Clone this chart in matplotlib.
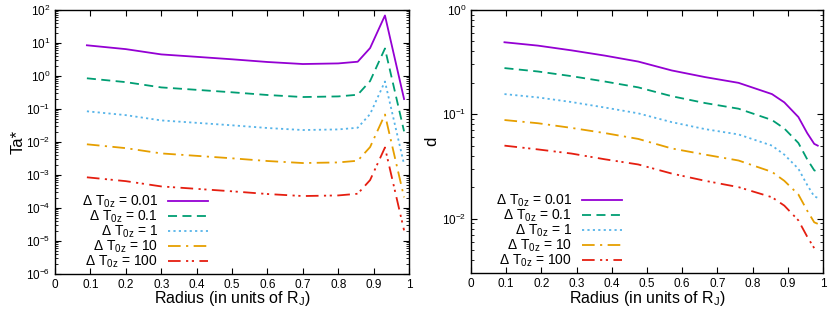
import numpy as np
import matplotlib
matplotlib.use("Agg")
import matplotlib.pyplot as plt
from matplotlib.ticker import LogLocator, MultipleLocator, NullFormatter

plt.rcParams['font.family'] = ['Liberation Sans', 'DejaVu Sans']
plt.rcParams['mathtext.fontset'] = 'custom'
plt.rcParams['mathtext.rm'] = 'Liberation Sans'
plt.rcParams['mathtext.it'] = 'Liberation Sans'

# Ta* against radius (left panel)
radius_ta = [0.09, 0.2, 0.3, 0.4, 0.5, 0.6, 0.7, 0.8, 0.855, 0.89, 0.932, 0.986]
ta_001 = [8.5, 6.5, 4.5, 3.8, 3.2, 2.65, 2.3, 2.4, 2.7, 7.0, 68, 0.2]
ta_01 = [0.85, 0.65, 0.45, 0.38, 0.32, 0.265, 0.23, 0.24, 0.27, 0.70, 6.8, 0.021]
ta_1 = [0.085, 0.065, 0.045, 0.038, 0.032, 0.0265, 0.023, 0.024, 0.027, 0.070, 0.68, 0.0021]
ta_10 = [0.0085, 0.0065, 0.0045, 0.0038, 0.0032, 0.00265, 0.0023, 0.0024, 0.0027, 0.0070, 0.068, 0.00021]
ta_100 = [8.5e-4, 6.5e-4, 4.5e-4, 3.8e-4, 3.2e-4, 2.65e-4, 2.3e-4, 2.4e-4, 2.7e-4, 7.0e-4, 6.8e-3, 2.1e-5]

# d against radius (right panel)
radius_d = [0.095, 0.19, 0.285, 0.38, 0.475, 0.57, 0.665, 0.76, 0.855, 0.89, 0.93, 0.955, 0.975, 0.985]
d_001 = [0.49, 0.455, 0.41, 0.365, 0.32, 0.263, 0.227, 0.2, 0.156, 0.13, 0.094, 0.066, 0.052, 0.050]
d_01 = [0.277, 0.257, 0.232, 0.206, 0.181, 0.149, 0.128, 0.113, 0.088, 0.073, 0.053, 0.037, 0.029, 0.028]
d_1 = [0.156, 0.145, 0.131, 0.116, 0.102, 0.084, 0.072, 0.064, 0.050, 0.041, 0.030, 0.021, 0.0163, 0.0158]
d_10 = [0.088, 0.082, 0.074, 0.066, 0.058, 0.047, 0.041, 0.036, 0.028, 0.023, 0.017, 0.0119, 0.0092, 0.0089]
d_100 = [0.050, 0.046, 0.042, 0.037, 0.033, 0.027, 0.023, 0.020, 0.016, 0.0133, 0.0096, 0.0067, 0.0052, 0.0050]

labels = ['0.01', '0.1', '1', '10', '100']
colors = ['#9400d3', '#009e73', '#56b4e9', '#e69f00', '#e51e10']
styles = ['-', (0, (5, 3)), (0, (1.2, 1.8)), (0, (7, 3, 1.2, 3)), (0, (7, 3, 1.2, 2, 1.2, 3))]

fig = plt.figure(figsize=(8.3, 3.11), dpi=100)
ax1 = fig.add_axes([0.0663, 0.119, 0.4265, 0.849])
ax2 = fig.add_axes([0.5675, 0.122, 0.4241, 0.846])


def style_axis(ax):
    ax.set_yscale('log')
    ax.set_xlim(0, 1)
    ax.xaxis.set_major_locator(MultipleLocator(0.1))
    ax.xaxis.set_major_formatter(plt.FuncFormatter(lambda v, p: '%g' % round(v, 1)))
    ax.yaxis.set_minor_formatter(NullFormatter())
    ax.tick_params(which='both', direction='in', top=True, right=True, labelsize=8.5)
    ax.tick_params(which='major', length=4.5, width=0.8)
    ax.tick_params(which='minor', length=2.5, width=0.6)
    ax.set_xlabel('Radius (in units of R$_\\mathregular{J}$)', fontsize=11.5, labelpad=-1)
    for s in ax.spines.values():
        s.set_linewidth(1.0)


for ys, lab, c, ls in zip([ta_001, ta_01, ta_1, ta_10, ta_100], labels, colors, styles):
    ax1.plot(radius_ta, ys, color=c, ls=ls, lw=1.3,
             label='$\\Delta$ T$_\\mathregular{0z}$ = ' + lab)
for ys, lab, c, ls in zip([d_001, d_01, d_1, d_10, d_100], labels, colors, styles):
    ax2.plot(radius_d, ys, color=c, ls=ls, lw=1.3,
             label='$\\Delta$ T$_\\mathregular{0z}$ = ' + lab)

style_axis(ax1)
ax1.set_ylim(1e-6, 1e2)
ax1.yaxis.set_major_locator(LogLocator(base=10, numticks=20))
ax1.set_ylabel('Ta*', fontsize=12, labelpad=0)

style_axis(ax2)
ax2.set_ylim(3e-3, 1)
ax2.set_ylabel('d', fontsize=12, labelpad=2)

for ax, anchor in [(ax1, (0.44, 0.005)), (ax2, (0.437, 0.005))]:
    ax.legend(loc='lower right', bbox_to_anchor=anchor, frameon=False, markerfirst=False,
              fontsize=10, handlelength=2.9, labelspacing=-0.1, handletextpad=0.7,
              borderaxespad=0.0, borderpad=0.2)

fig.savefig('out.png', dpi=100)
